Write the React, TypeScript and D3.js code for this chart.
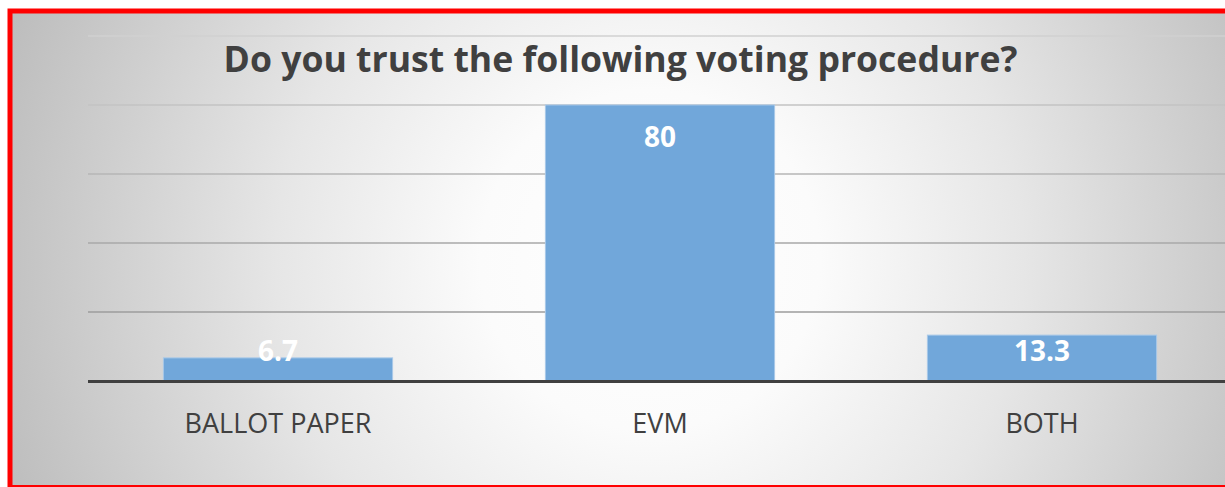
import React from "react";
import * as d3 from "d3";

const categories = ["BALLOT PAPER", "EVM", "BOTH"];
const values = [6.7, 80, 13.3];
const valueLabels = ["6.7", "80", "13.3"];
const yTicks = [0, 20, 40, 60, 80, 100];
const title = "Do you trust the following voting procedure?";

const W = 1225;
const H = 487;
const FONT = "'Open Sans', 'Noto Sans', sans-serif";

export default function App() {
  const x = d3
    .scaleBand<string>()
    .domain(categories)
    .range([87, 1233])
    .paddingInner(0.4)
    .paddingOuter(0.2);
  const y = d3.scaleLinear().domain([0, 100]).range([381, 36]);
  const y0 = y(0);
  const gridColor = d3.scaleLinear<string>().domain([20, 100]).range(["#9c9c9c", "#d0d0d0"]);

  return (
    <svg
      width={W}
      height={H}
      style={{ position: "absolute", left: 0, top: 0, display: "block", background: "#fff" }}
    >
      <defs>
        <radialGradient id="bg" gradientUnits="userSpaceOnUse" cx={650} cy={260} r={680}>
          <stop offset="0" stopColor="#ffffff" />
          <stop offset="0.25" stopColor="#fbfbfb" />
          <stop offset="0.55" stopColor="#e6e6e6" />
          <stop offset="1" stopColor="#bdbdbd" />
        </radialGradient>
      </defs>
      <rect x={10} y={11} width={1300} height={476.5} fill="url(#bg)" stroke="#ff0000" strokeWidth={5} />
      {yTicks.slice(1).map((t) => (
        <line key={t} x1={88} x2={W} y1={y(t)} y2={y(t)} stroke={gridColor(t)} strokeWidth={1.3} />
      ))}
      {categories.map((c, i) => (
        <rect
          key={c}
          x={x(c)!}
          y={y(values[i])}
          width={x.bandwidth()}
          height={y0 - y(values[i])}
          fill="#71a7da"
          stroke="#a8c8e8"
          strokeWidth={1}
        />
      ))}
      <line x1={88} x2={W} y1={y0 + 0.5} y2={y0 + 0.5} stroke="#404040" strokeWidth={3} />
      {categories.map((c, i) => (
        <text
          key={c + "v"}
          x={x(c)! + x.bandwidth() / 2}
          y={Math.min(y(values[i]) + 42, y0 - 20)}
          textAnchor="middle"
          fontFamily={FONT}
          fontWeight={700}
          fontSize={28}
          fill="#ffffff"
        >
          {valueLabels[i]}
        </text>
      ))}
      {categories.map((c) => (
        <text
          key={c + "l"}
          x={x(c)! + x.bandwidth() / 2}
          y={433}
          textAnchor="middle"
          fontFamily={FONT}
          fontSize={27}
          fill="#404040"
        >
          {c}
        </text>
      ))}
      <text
        x={620.5}
        y={72}
        textAnchor="middle"
        fontFamily={FONT}
        fontWeight={700}
        fontSize={35.6}
        fill="#404040"
      >
        {title}
      </text>
    </svg>
  );
}
